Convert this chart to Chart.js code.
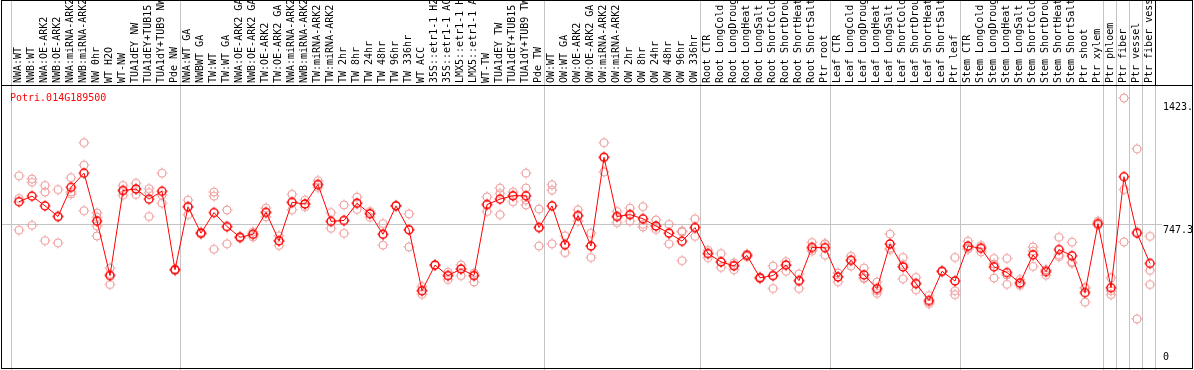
<!DOCTYPE html>
<html>
<head>
<meta charset="utf-8">
<title>Potri.014G189500</title>
<script src="https://cdn.jsdelivr.net/npm/chart.js@4.4.0/dist/chart.umd.min.js"></script>
<style>
  html, body { margin: 0; padding: 0; background: #fff; }
  canvas { display: block; }
</style>
</head>
<body>
<canvas id="chart" width="1194" height="370"></canvas>
<script>
const geneName = 'Potri.014G189500';

// sample names (already cut to 14 chars like the source)
const samples = [
    'NWA:WT', 'NWB:WT', 'NWA:OE-ARK2', 'NWB:OE-ARK2', 'NWA:miRNA-ARK2', 'NWB:miRNA-ARK2',
    'NW 0hr', 'WT H2O', 'WT-NW', 'TUA1dEY NW', 'TUA1dEY+TUB15', 'TUA1dY+TUB9 NW', 'Pde NW',
    'NWA:WT GA', 'NWBWT GA', 'TW:WT', 'TW:WT GA', 'NWA:OE-ARK2 GA', 'NWB:OE-ARK2 GA',
    'TW:OE-ARK2', 'TW:OE-ARK2 GA', 'NWA:miRNA-ARK2', 'NWB:miRNA-ARK2', 'TW:miRNA-ARK2',
    'TW:miRNA-ARK2', 'TW 2hr', 'TW 8hr', 'TW 24hr', 'TW 48hr', 'TW 96hr', 'TW 336hr',
    'WT ACC', '35S::etr1-1 H2', '35S::etr1-1 AC', 'LMX5::etr1-1 H', 'LMX5::etr1-1 A',
    'WT-TW', 'TUA1dEY TW', 'TUA1dEY+TUB15', 'TUA1dY+TUB9 TW', 'Pde TW',
    'OW:WT', 'OW:WT GA', 'OW:OE-ARK2', 'OW:OE-ARK2 GA', 'OW:miRNA-ARK2', 'OW:miRNA-ARK2',
    'OW 2hr', 'OW 8hr', 'OW 24hr', 'OW 48hr', 'OW 96hr', 'OW 336hr',
    'Root CTR', 'Root LongCold', 'Root LongDroug', 'Root LongHeat', 'Root LongSalt',
    'Root ShortCold', 'Root ShortDrou', 'Root ShortHeat', 'Root ShortSalt', 'Ptr root',
    'Leaf CTR', 'Leaf LongCold', 'Leaf LongDroug', 'Leaf LongHeat', 'Leaf LongSalt',
    'Leaf ShortCold', 'Leaf ShortDrou', 'Leaf ShortHeat', 'Leaf ShortSalt', 'Ptr leaf',
    'Stem CTR', 'Stem LongCold', 'Stem LongDroug', 'Stem LongHeat', 'Stem LongSalt',
    'Stem ShortCold', 'Stem ShortDrou', 'Stem ShortHeat', 'Stem ShortSalt', 'Ptr shoot',
    'Ptr xylem', 'Ptr phloem', 'Ptr fiber', 'Ptr vessel', 'Ptr fiber vess'
];

// mean expression per sample
const means = [
    868, 898, 846, 789, 945, 1021, 764, 473, 928, 936,
    882, 924, 504, 841, 700, 810, 735, 678, 694, 811,
    659, 865, 856, 960, 763, 768, 860, 804, 694, 846,
    718, 392, 529, 473, 508, 473, 853, 882, 900, 900,
    730, 846, 638, 794, 631, 1106, 789, 799, 777, 738,
    700, 657, 730, 591, 546, 525, 581, 461, 473, 529,
    446, 624, 622, 466, 555, 477, 403, 642, 519, 430,
    340, 496, 444, 631, 619, 520, 489, 434, 584, 494,
    612, 579, 382, 751, 408, 1002, 700, 538
];

// single replicates per sample
const replicates = [
    [1007, 886, 716], [990, 972, 742], [955, 920, 660], [933, 789, 648], [997, 921, 910],
    [1184, 1064, 820], [808, 785, 738, 685], [513, 480, 425], [955, 928, 903], [967, 936, 907],
    [938, 917, 789], [1021, 903, 860], [504, 500, 508], [877, 841, 799], [700, 705, 695],
    [920, 898, 614], [824, 735, 643], [681, 678, 675], [707, 694, 680], [834, 811, 787],
    [686, 659, 634], [908, 865, 825], [877, 856, 841], [981, 960, 945], [810, 763, 726],
    [851, 768, 699], [893, 860, 827], [816, 804, 785], [751, 694, 636], [846, 846, 846],
    [803, 718, 626], [414, 392, 373], [529, 529, 529], [491, 473, 452], [530, 508, 473],
    [487, 473, 439], [894, 853, 816], [941, 912, 799], [920, 900, 868], [1021, 941, 877, 851],
    [829, 730, 631], [959, 930, 643], [686, 638, 596], [825, 794, 764], [700, 631, 570],
    [1184, 1106, 1028], [816, 789, 756], [834, 799, 764], [842, 747, 733], [771, 738, 720],
    [747, 700, 643], [712, 706, 553], [777, 730, 683], [608, 591, 569], [591, 546, 517],
    [530, 541, 504], [588, 581, 575], [465, 461, 456], [524, 473, 404], [548, 529, 496],
    [482, 446, 404], [650, 617, 605], [640, 644, 582], [487, 466, 440], [577, 555, 524],
    [513, 460, 458], [439, 392, 378], [695, 612, 619], [570, 531, 456], [463, 430, 397],
    [366, 332, 322], [496, 496, 496], [570, 392, 371], [657, 622, 614], [634, 623, 600],
    [565, 535, 460], [565, 476, 426], [452, 429, 421], [626, 604, 522], [504, 503, 475],
    [678, 584, 574], [652, 546, 539], [409, 406, 331], [764, 747, 742], [461, 392, 371],
    [1423, 933, 653], [1151, 708, 241], [683, 501, 425]
];

// a grey separator is drawn before these sample indexes
const groupStarts = [0, 13, 41, 53, 63, 73, 84, 85, 86, 87, 88];

const yTicks = [0, 747.3, 1423];
const yTickLabels = ['0', '747.3', '1423.'];

const MONO = '"DejaVu Sans Mono", "Liberation Mono", monospace';

// ring with four little ticks, like the old plotting lib
function ringMarker(color, width) {
    const c = document.createElement('canvas');
    c.width = 14; c.height = 14;
    const g = c.getContext('2d');
    g.strokeStyle = color;
    g.lineWidth = width;
    g.beginPath();
    g.arc(7, 7, 4, 0, Math.PI * 2);
    g.stroke();
    g.lineWidth = 1;
    g.beginPath();
    g.moveTo(7, 1.5); g.lineTo(7, 3);
    g.moveTo(7, 11); g.lineTo(7, 12.5);
    g.moveTo(1.5, 7); g.lineTo(3, 7);
    g.moveTo(11, 7); g.lineTo(12.5, 7);
    g.stroke();
    return c;
}

const meanMarker = ringMarker('#ff0000', 1.4);
const repMarker = ringMarker('#ee9999', 1);

// one dataset per replicate slot so every point sits on its sample index
const repDatasets = [0, 1, 2, 3].map(k => ({
    label: 'rep' + (k + 1),
    data: replicates.map(r => (r[k] !== undefined ? r[k] : null)),
    showLine: false,
    pointStyle: repMarker,
    pointRadius: 5,
    order: 2,
    clip: false
}));

const framePlugin = {
    id: 'frame',
    beforeDatasetsDraw(chart) {
        const ctx = chart.ctx;
        const x = chart.scales.x;
        const y = chart.scales.y;
        ctx.save();
        ctx.strokeStyle = '#c4c4c4';
        ctx.lineWidth = 1;
        ctx.beginPath();
        groupStarts.forEach(i => {
            const px = Math.round(x.getPixelForValue(i) - 8) + 0.5;
            ctx.moveTo(px, 0);
            ctx.lineTo(px, chart.height);
        });
        const hy = Math.round(y.getPixelForValue(yTicks[1])) + 0.5;
        ctx.moveTo(2, hy);
        ctx.lineTo(1162, hy);
        ctx.stroke();
        ctx.restore();
    },
    afterDraw(chart) {
        const ctx = chart.ctx;
        const y = chart.scales.y;
        ctx.save();
        // black frame + header rule
        ctx.strokeStyle = '#000';
        ctx.lineWidth = 1;
        ctx.strokeRect(1.5, 0.5, chart.width - 3, chart.height - 2);
        ctx.beginPath();
        ctx.moveTo(1.5, 85.5);
        ctx.lineTo(chart.width - 1.5, 85.5);
        ctx.moveTo(1155.5, 0);
        ctx.lineTo(1155.5, 85.5);
        ctx.stroke();

        ctx.font = '10px ' + MONO;
        ctx.textBaseline = 'alphabetic';
        ctx.fillStyle = '#ff0000';
        ctx.fillText(geneName, 10, 101);

        // right side value labels
        ctx.fillStyle = '#000';
        const shift = [-4, 9, 12];
        yTicks.forEach((v, i) => {
            ctx.fillText(yTickLabels[i], 1163, y.getPixelForValue(v) + shift[i]);
        });
        ctx.restore();
    }
};

const ctx = document.getElementById('chart').getContext('2d');
const chart = new Chart(ctx, {
    type: 'line',
    data: {
        labels: samples,
        datasets: [{
            label: geneName,
            data: means,
            borderColor: '#ff0000',
            borderWidth: 1,
            pointStyle: meanMarker,
            pointRadius: 5,
            tension: 0,
            order: 1,
            clip: false
        }].concat(repDatasets)
    },
    options: {
        responsive: false,
        animation: false,
        devicePixelRatio: 1,
        events: [],
        layout: { padding: { left: 12.5, right: 37.5, top: 0, bottom: 0 } },
        plugins: {
            legend: { display: false },
            tooltip: { enabled: false },
            title: { display: false }
        },
        scales: {
            x: {
                position: 'top',
                offset: true,
                grid: { display: false, drawTicks: false },
                border: { display: false },
                ticks: {
                    autoSkip: false,
                    minRotation: 90,
                    maxRotation: 90,
                    padding: 15,
                    labelOffset: 11,
                    color: '#000',
                    font: { family: MONO, size: 10 }
                },
                afterFit: s => {
                    s.height = 98;
                    // labels may spill out, the columns must keep 13px each
                    s.paddingLeft = 0;
                    s.paddingRight = 0;
                }
            },
            y: {
                display: false,
                min: 0,
                max: 1423
            }
        }
    },
    plugins: [framePlugin]
});
</script>
</body>
</html>
